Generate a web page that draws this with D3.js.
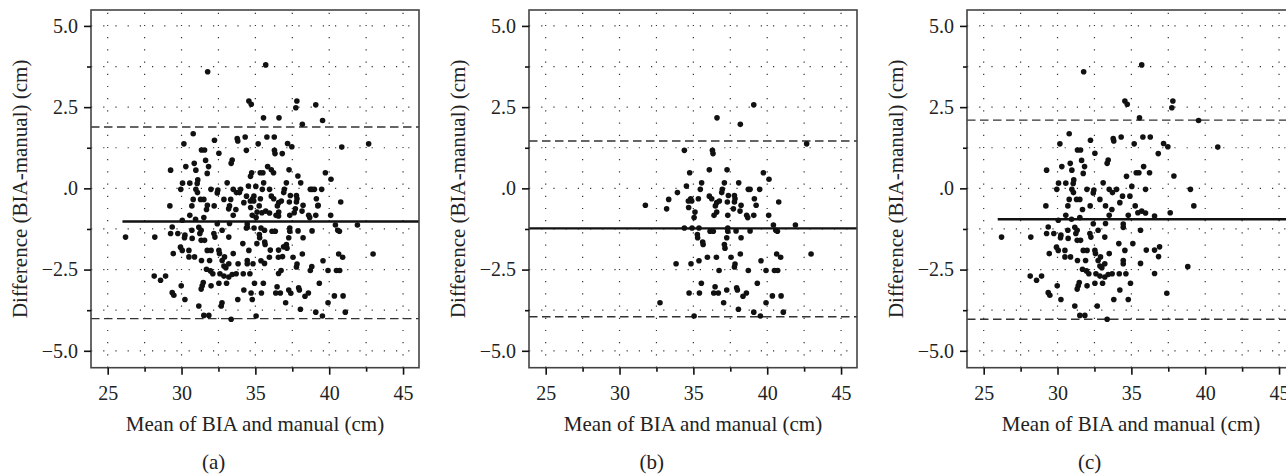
<!DOCTYPE html>
<html>
<head>
<meta charset="utf-8">
<script src="https://cdn.jsdelivr.net/npm/d3@7"></script>
<style>
  html, body { margin: 0; padding: 0; background: #fff; }
  svg { display: block; }
</style>
</head>
<body>
<div id="chart"></div>
<script>
// Bland-Altman plots, three panels; panel (a) = all subjects = (b) + (c)

const panelLabels = ["(a)", "(b)", "(c)"];
const xTicks = [25, 30, 35, 40, 45];
const xMinorTicks = [27.5, 32.5, 37.5, 42.5];
const yTicks = [-5, -2.5, 0, 2.5, 5];
const yMinorTicks = [-3.75, -1.25, 1.25, 3.75];
const xTitle = "Mean of BIA and manual (cm)";
const yTitle = "Difference (BIA-manual) (cm)";

// mean difference and limits of agreement per panel
const meanDiff = [-1.02, -1.23, -0.95];
const upperLoA = [1.89, 1.46, 2.10];
const lowerLoA = [-4.01, -3.95, -4.03];
const meanLineStart = [26.0, 23.87, 25.95];

// points [mean, difference]
const pointsB = [
  [39.09,2.57],[36.6,2.17],[38.18,1.97],[42.67,1.37],[34.39,1.17],[36.29,1.17],[36.33,1.07],
  [34.75,0.48],[36.08,0.57],[37.28,0.57],[39.74,0.48],[40.12,0.28],
  [34.53,0.07],[35.56,0.17],[35.47,-0.03],[37.1,0.17],[38.07,0.17],[33.92,-0.13],
  [33.33,-0.34],[33.19,-0.63],[31.75,-0.52],[36.96,-0.03],[36.92,-0.13],[38.72,-0.03],[38.84,-0.03],[39.49,-0.03],
  [35.34,-0.32],[34.82,-0.32],[34.66,-0.39],[34.89,-0.39],
  [36.08,-0.24],[36.24,-0.32],[36.58,-0.44],[36.76,-0.39],[36.49,-0.54],
  [37.37,-0.22],[37.78,-0.22],[37.82,-0.32],[37.78,-0.42],[37.3,-0.42],
  [38.23,-0.52],[38.16,-0.7],[37.71,-0.63],[38.61,-0.83],[38.68,-0.9],
  [39.13,-0.32],[39.25,-0.52],[39.09,-0.83],[40.78,-0.42],[40.1,-0.83],
  [34.68,-0.59],[35.11,-0.73],[35.05,-0.9],[36.58,-0.73],[36.4,-0.83],[37.33,-0.83],
  [40.42,-1.13],[41.91,-1.13],[40.58,-1.29],[40.69,-1.32],
  [34.39,-1.22],[34.91,-1.22],[35.38,-1.22],[36.13,-1.32],[36.35,-1.32],[37.33,-1.22],[37.33,-1.32],[37.89,-1.31],[38.84,-1.31],
  [35.27,-1.42],[35.29,-1.52],[35.63,-1.65],[35.66,-1.73],[37.26,-1.52],[37.1,-1.73],[37.14,-1.84],[38.23,-1.52],
  [42.97,-2.02],[40.64,-2.02],[40.91,-2.12],[39.58,-2.23],[33.83,-2.32],[34.84,-2.32],[35.38,-2.23],[35.95,-2.12],[36.56,-2.12],[37.55,-2.12],[38.18,-2.02],
  [37.82,-2.33],[37.78,-2.42],[36.74,-2.53],[38.72,-2.53],[39.92,-2.53],[40.49,-2.53],[40.71,-2.53],
  [35.54,-2.92],[34.71,-3.22],[35.41,-3.22],[36.47,-3.03],[36.38,-3.22],[36.69,-3.22],[37.26,-3.13],[37.93,-3.06],[37.98,-3.13],[38.59,-3.22],[38.36,-3.32],[39.33,-2.92],
  [32.74,-3.52],[37.05,-3.52],[39.92,-3.52],[40.35,-3.31],[40.94,-3.31],[38.05,-3.72],[39.09,-3.81],[41.09,-3.81],[39.54,-3.93],[35.05,-3.93]
];

// points [mean, difference]
const pointsC = [
  [31.77,3.59],[35.7,3.8],[34.56,2.69],[34.72,2.59],[35.55,2.17],[37.81,2.69],[37.74,2.48],[39.55,2.09],
  [30.79,1.68],[30.16,1.37],[32.23,1.48],[33.77,1.53],[33.81,1.46],[34.31,1.58],[35.19,1.37],[35.78,1.58],[36.28,1.58],[37.18,1.38],[37.47,1.28],[40.85,1.27],[36.82,1.07],
  [31.35,1.18],[31.56,1.18],[32.53,1.08],[33.43,0.87],[33.36,0.77],[31.63,0.86],[30.86,0.77],[30.29,0.67],[30.97,0.56],[31.83,0.67],[29.26,0.56],[31.74,0.46],
  [35.33,0.48],[35.51,0.48],[36.23,0.48],[35.83,0.67],[37.88,0.38],[34.67,0.37],
  [31.1,0.26],[31.06,0.15],[30.07,0.16],[30.56,0.16],[33.09,0.17],[35.03,0.06],
  [29.95,-0.03],[30.97,-0.03],[31.08,-0.13],[31.99,-0.03],[32.46,-0.05],[32.42,-0.14],[33.5,-0.03],[33.72,-0.13],[34.0,-0.03],[35.96,-0.03],[39.0,-0.03],
  [34.4,-0.24],[34.9,-0.24],[30.79,-0.34],[31.29,-0.34],[31.51,-0.34],[32.87,-0.34],
  [32.21,-0.54],[30.7,-0.54],[31.69,-0.65],[33.25,-0.54],[33.68,-0.65],[34.22,-0.44],[35.26,-0.54],[35.44,-0.75],[29.21,-0.54],[39.23,-0.54],
  [35.7,-0.7],[35.96,-0.76],[36.57,-0.85],[37.63,-0.75],
  [30.56,-0.83],[31.51,-0.9],[33.5,-0.83],[34.79,-0.83],
  [30.05,-0.98],[30.95,-0.95],[32.42,-1.09],[33.25,-1.08],[34.45,-1.1],[34.45,-1.2],[35.62,-1.29],
  [26.21,-1.5],[28.19,-1.5],[29.37,-1.19],[29.26,-1.39],[29.75,-1.39],[30.23,-1.44],[30.2,-1.52],[30.7,-1.29],[30.72,-1.54],[31.17,-1.2],[31.33,-1.29],[31.24,-1.39],[31.33,-1.6],[31.56,-1.6],[32.19,-1.39],[32.26,-1.5],[32.75,-1.29],[33.2,-1.5],
  [34.15,-1.7],[34.56,-1.91],[35.1,-1.7],[36.01,-1.9],[36.57,-1.9],[36.91,-1.8],[36.84,-2.1],
  [29.93,-1.81],[30.05,-1.91],[30.5,-1.91],[29.44,-2.01],[30.5,-2.11],[30.88,-2.11],[31.35,-2.22],[31.74,-1.91],[32.0,-1.91],[31.9,-2.22],[32.53,-1.91],[32.57,-2.01],[32.91,-2.11],[32.75,-2.22],[33.5,-2.01],[33.2,-2.32],[32.87,-2.39],[33.0,-2.44],[34.45,-2.22],[34.45,-2.32],[35.62,-2.31],
  [31.69,-2.49],[31.96,-2.54],[32.12,-2.63],[32.6,-2.63],[32.87,-2.7],[33.2,-2.73],[33.43,-2.65],[33.7,-2.63],[34.18,-2.63],[34.63,-2.63],[36.57,-2.62],[38.82,-2.41],
  [28.15,-2.7],[28.58,-2.83],[28.92,-2.7],[29.98,-3.0],[31.47,-2.9],[31.4,-3.0],[31.33,-3.1],[32.0,-3.0],[32.53,-2.92],[33.05,-2.92],[34.94,-2.92],
  [29.37,-3.21],[29.48,-3.29],[30.23,-3.42],[34.22,-3.13],[33.81,-3.42],[34.79,-3.42],[37.4,-3.23],[31.17,-3.62],[32.69,-3.62],[31.51,-3.91],[31.85,-3.91],[33.36,-4.03]
];

const pointsA = pointsB.concat(pointsC);
const panelPoints = [pointsA, pointsB, pointsC];

const W = 1286, H = 474;
const plotW = 328, plotTop = 10, plotH = 357.7;
const panelLeft = [91, 529, 967];
const serif = "Liberation Serif, Times New Roman, serif";

const svg = d3.select("#chart").append("svg")
  .attr("width", W).attr("height", H)
  .attr("viewBox", `0 0 ${W} ${H}`)
  .attr("font-family", serif);

const x = d3.scaleLinear().domain([23.87, 46.08]).range([0, plotW]);
const y = d3.scaleLinear().domain([-5.52, 5.49]).range([plotH, 0]);

const fmtY = d => d === 0 ? ".0" : d3.format(".1f")(d).replace("-", "\u2212");

panelLabels.forEach((lab, i) => {
  const g = svg.append("g").attr("transform", `translate(${panelLeft[i]},${plotTop})`);

  // dotted grid
  const grid = g.append("g").attr("stroke", "#333").attr("stroke-width", 1.2)
    .attr("stroke-dasharray", "1.2,11");
  grid.selectAll("line.v").data(xTicks.concat(xMinorTicks)).enter().append("line")
    .attr("x1", d => x(d)).attr("x2", d => x(d)).attr("y1", plotH).attr("y2", 0);
  grid.selectAll("line.h").data(yTicks.concat(yMinorTicks)).enter().append("line")
    .attr("x1", 0).attr("x2", plotW).attr("y1", d => y(d)).attr("y2", d => y(d));

  // limits of agreement
  g.selectAll("line.loa").data([upperLoA[i], lowerLoA[i]]).enter().append("line")
    .attr("x1", 0).attr("x2", plotW)
    .attr("y1", d => y(d)).attr("y2", d => y(d))
    .attr("stroke", "#333").attr("stroke-width", 1.4).attr("stroke-dasharray", "8.5,4.5");

  // mean difference
  g.append("line")
    .attr("x1", x(meanLineStart[i])).attr("x2", plotW)
    .attr("y1", y(meanDiff[i])).attr("y2", y(meanDiff[i]))
    .attr("stroke", "#111").attr("stroke-width", 2.3);

  // points
  g.append("g").selectAll("circle").data(panelPoints[i]).enter().append("circle")
    .attr("cx", d => x(d[0])).attr("cy", d => y(d[1])).attr("r", 2.8)
    .attr("fill", "#111");

  // frame
  g.append("rect").attr("x", 0).attr("y", 0).attr("width", plotW).attr("height", plotH)
    .attr("fill", "none").attr("stroke", "#444").attr("stroke-width", 1.6);

  // axes
  const xa = g.append("g").attr("transform", `translate(0,${plotH})`)
    .call(d3.axisBottom(x).tickValues(xTicks).tickSize(7).tickPadding(4));
  g.append("g").attr("transform", `translate(0,${plotH})`)
    .call(d3.axisBottom(x).tickValues(xMinorTicks).tickSize(4).tickFormat(""));
  const ya = g.append("g")
    .call(d3.axisLeft(y).tickValues(yTicks).tickSize(7).tickPadding(6).tickFormat(fmtY));
  g.append("g")
    .call(d3.axisLeft(y).tickValues(yMinorTicks).tickSize(4).tickFormat(""));
  g.selectAll(".domain").remove();
  g.selectAll(".tick line").attr("stroke", "#111").attr("stroke-width", 1.6);
  [xa, ya].forEach(a => {
    a.attr("font-family", serif).attr("font-size", 20);
    a.selectAll("text").attr("font-family", serif).attr("font-size", 20).attr("fill", "#222");
  });
  xa.selectAll("text").attr("dy", null).attr("y", 32);

  // titles
  g.append("text").attr("x", plotW / 2).attr("y", 421).attr("text-anchor", "middle")
    .attr("font-size", 21).attr("fill", "#222").text(xTitle);
  g.append("text").attr("transform", `translate(-64,${plotH / 2}) rotate(-90)`)
    .attr("text-anchor", "middle").attr("font-size", 21).attr("fill", "#222").text(yTitle);
  g.append("text").attr("x", 122.7).attr("y", 459).attr("text-anchor", "middle")
    .attr("font-size", 21).attr("fill", "#222").text(lab);
});
</script>
</body>
</html>
